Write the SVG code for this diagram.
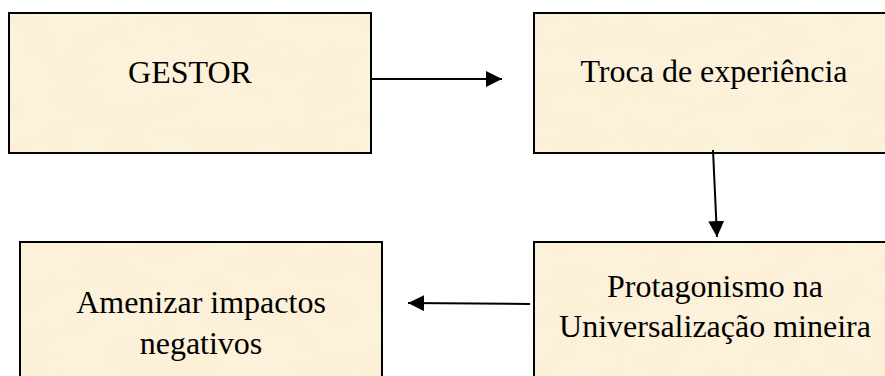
<svg xmlns="http://www.w3.org/2000/svg" width="885" height="376" viewBox="0 0 885 376">
  <defs>
    <marker id="arrow" markerUnits="userSpaceOnUse" markerWidth="17" markerHeight="17" refX="16" refY="8" orient="auto">
      <path d="M0,0 L16,8 L0,16 Z" fill="#000"/>
    </marker>
    <filter id="paper" x="0" y="0" width="100%" height="100%">
      <feTurbulence type="fractalNoise" baseFrequency="0.02 0.04" numOctaves="3" seed="7" result="n"/>
      <feColorMatrix in="n" type="matrix" values="0 0 0 0 0.99  0 0 0 0 0.93  0 0 0 0 0.80  0 0 0 0.35 0" result="tint"/>
      <feComposite in="tint" in2="SourceGraphic" operator="in" result="t"/>
      <feMerge><feMergeNode in="SourceGraphic"/><feMergeNode in="t"/></feMerge>
    </filter>
  </defs>
  <style>
    .fill { fill: #FCF0D6; stroke: none; }
    .frame { fill: none; stroke: #000; stroke-width: 2; }
    .lbl { font-family: "Liberation Serif", "Times New Roman", "DejaVu Serif", serif; font-size: 32px; fill: #000; text-anchor: middle; }
    .conn { stroke: #000; stroke-width: 2; fill: none; marker-end: url(#arrow); }
  </style>
  <rect width="885" height="376" fill="#fff"/>

  <g id="node-gestor">
    <rect class="fill" x="9" y="13" width="362" height="140" filter="url(#paper)"/>
    <rect class="frame" x="9" y="13" width="362" height="140"/>
    <text class="lbl" x="190" y="83">GESTOR</text>
  </g>

  <g id="node-troca">
    <rect class="fill" x="534" y="13" width="362" height="140" filter="url(#paper)"/>
    <rect class="frame" x="534" y="13" width="362" height="140"/>
    <text class="lbl" x="714" y="82">Troca de experiência</text>
  </g>

  <g id="node-protagonismo">
    <rect class="fill" x="534" y="242" width="362" height="150" filter="url(#paper)"/>
    <rect class="frame" x="534" y="242" width="362" height="150"/>
    <text class="lbl" x="715" y="297">Protagonismo na</text>
    <text class="lbl" x="715" y="337">Universalização mineira</text>
  </g>

  <g id="node-amenizar">
    <rect class="fill" x="20" y="242" width="362" height="150" filter="url(#paper)"/>
    <rect class="frame" x="20" y="242" width="362" height="150"/>
    <text class="lbl" x="201" y="313">Amenizar impactos</text>
    <text class="lbl" x="201" y="354">negativos</text>
  </g>

  <g id="connectors">
    <line class="conn" x1="371" y1="79" x2="502" y2="79"/>
    <line class="conn" x1="713" y1="150" x2="717" y2="237"/>
    <line class="conn" x1="530" y1="304" x2="408" y2="303"/>
  </g>
</svg>
